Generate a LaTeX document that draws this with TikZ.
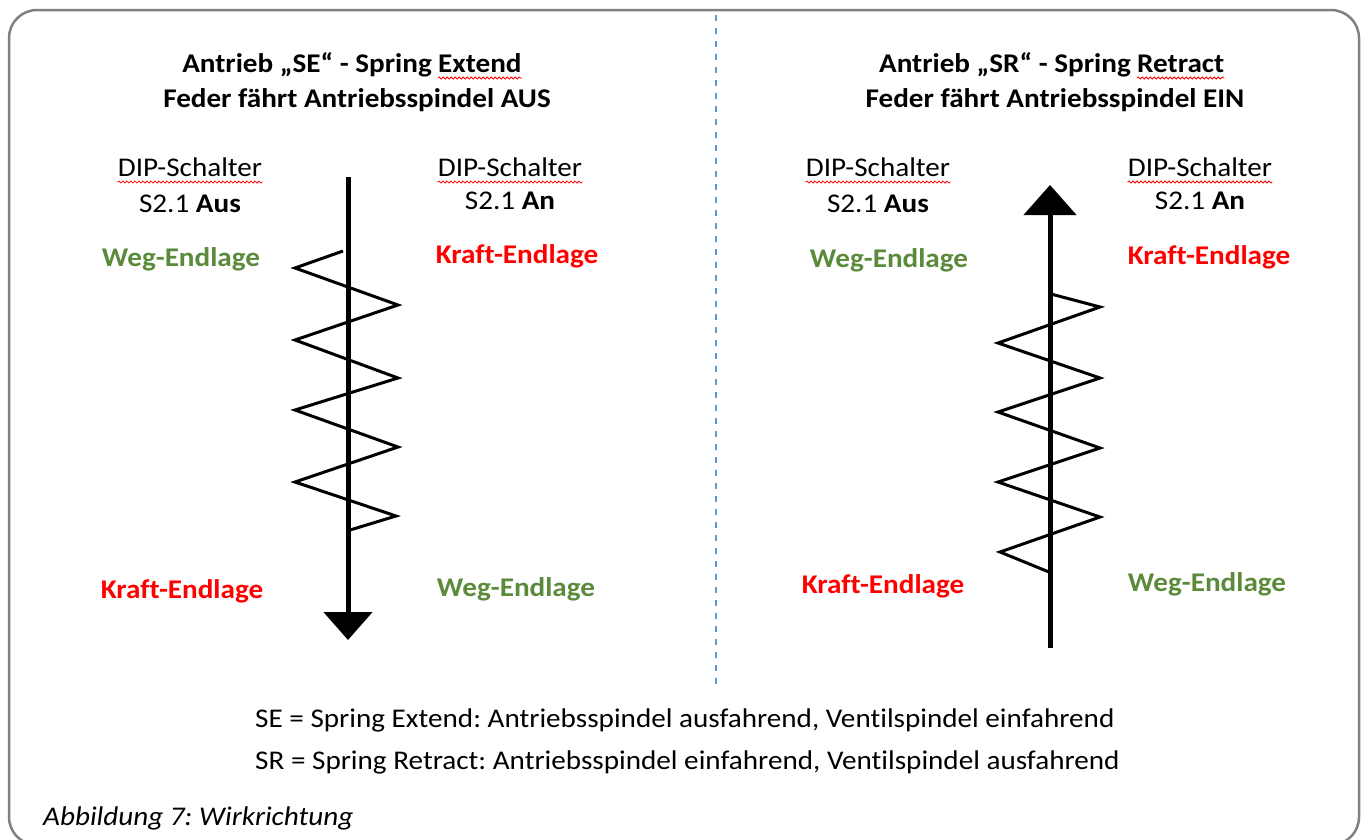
\documentclass[tikz,border=0pt]{standalone}
\usepackage{fontspec}
\setmainfont{Carlito}[FakeStretch=1.08,Ligatures={NoCommon}]
\usetikzlibrary{arrows.meta,decorations.pathmorphing}
\frenchspacing
\definecolor{wegc}{HTML}{5A8A3A}
\definecolor{kraftc}{HTML}{FF0000}
\definecolor{framec}{HTML}{808080}
\definecolor{sepc}{HTML}{5B9BD5}
\tikzset{
  txt/.style={anchor=base,inner sep=0pt,font=\fontsize{27}{32}\selectfont},
  ttl/.style={txt,font=\fontsize{27}{32}\selectfont\bfseries},
  weg/.style={txt,font=\fontsize{27}{32}\selectfont\bfseries,text=wegc},
  kraft/.style={txt,font=\fontsize{27}{32}\selectfont\bfseries,text=kraftc},
  axis/.style={line width=5pt},
  spring/.style={line width=3pt,line join=miter},
  wave/.style={red,line width=0.8pt,decorate,decoration={snake,segment length=4pt,amplitude=1pt}},
}
\newcommand\waveunder[1]{\draw[wave] ([yshift=-6pt]#1.base west) -- ([yshift=-6pt]#1.base east);}
\begin{document}
\begin{tikzpicture}[x=1pt,y=-1pt]
\useasboundingbox (0,0) rectangle (1365,839);
% frame
\draw[framec,line width=2.5pt,rounded corners=28pt] (9,10) rectangle (1359,845);
% separator
\coordinate (s1) at (716,15);
\coordinate (s2) at (716,685);
\draw[sepc,line width=1.5pt,dash pattern=on 6pt off 7pt] (s1) -- (s2);

% ---------- left ----------
\node[ttl,anchor=base east] (lt1a) at (432,72) {Antrieb „SE“ - Spring};
\node[ttl,anchor=base west] (lt1b) at ([xshift=6pt]lt1a.base east) {Extend};
\node[ttl] (lt2) at (357,107) {Feder fährt Antriebsspindel AUS};
\node[txt] (ld1) at (190,176) {DIP-Schalter};
\node[txt] (ld2) at (190,212) {S2.1 \textbf{Aus}};
\node[txt] (rd1) at (510,176) {DIP-Schalter};
\node[txt] (rd2) at (510,209) {S2.1 \textbf{An}};
\node[weg] (lw1) at (181,266) {Weg-Endlage};
\node[kraft] (lk1) at (517,263) {Kraft-Endlage};
\node[kraft] (lk2) at (182,598) {Kraft-Endlage};
\node[weg] (lw2) at (516,596) {Weg-Endlage};
\waveunder{lt1b}
\waveunder{ld1}
\waveunder{rd1}

\coordinate (la1) at (348,177);
\coordinate (la2) at (348,640);
\draw[axis,-{Triangle[width=48pt,length=28pt]}] (la1) -- (la2);
\draw[spring] (343,251) -- (295,268) -- (398,305) -- (295,340) -- (398,378)
  -- (295,410) -- (398,447) -- (295,482) -- (396,516) -- (350,530);

% ---------- right ----------
\node[ttl,anchor=base east] (rt1a) at (1131,72) {Antrieb „SR“ - Spring};
\node[ttl,anchor=base west] (rt1b) at ([xshift=6pt]rt1a.base east) {Retract};
\node[ttl] (rt2) at (1055,107) {Feder fährt Antriebsspindel EIN};
\node[txt] (rld1) at (878,176) {DIP-Schalter};
\node[txt] (rld2) at (878,212) {S2.1 \textbf{Aus}};
\node[txt] (rrd1) at (1200,176) {DIP-Schalter};
\node[txt] (rrd2) at (1200,209) {S2.1 \textbf{An}};
\node[weg] (rw1) at (889,267) {Weg-Endlage};
\node[kraft] (rk1) at (1209,264) {Kraft-Endlage};
\node[kraft] (rk2) at (883,593) {Kraft-Endlage};
\node[weg] (rw2) at (1207,591) {Weg-Endlage};
\waveunder{rt1b}
\waveunder{rld1}
\waveunder{rrd1}

\coordinate (ra1) at (1050,648);
\coordinate (ra2) at (1050,185);
\draw[axis,-{Triangle[width=52pt,length=30pt]}] (ra1) -- (ra2);
\draw[spring] (1051,294) -- (1100,307) -- (998,343) -- (1100,378) -- (998,412)
  -- (1100,448) -- (998,482) -- (1100,517) -- (1000,552) -- (1049,572);

% ---------- bottom ----------
\node[txt,anchor=base west] (n1) at (255,727) {SE = Spring Extend: Antriebsspindel ausfahrend, Ventilspindel einfahrend};
\node[txt,anchor=base west] (n2) at (255,769) {SR = Spring Retract: Antriebsspindel einfahrend, Ventilspindel ausfahrend};
\node[txt,anchor=base west,font=\fontsize{27}{32}\selectfont\itshape] (cap) at (43,825) {Abbildung 7: Wirkrichtung};
\end{tikzpicture}
\end{document}
